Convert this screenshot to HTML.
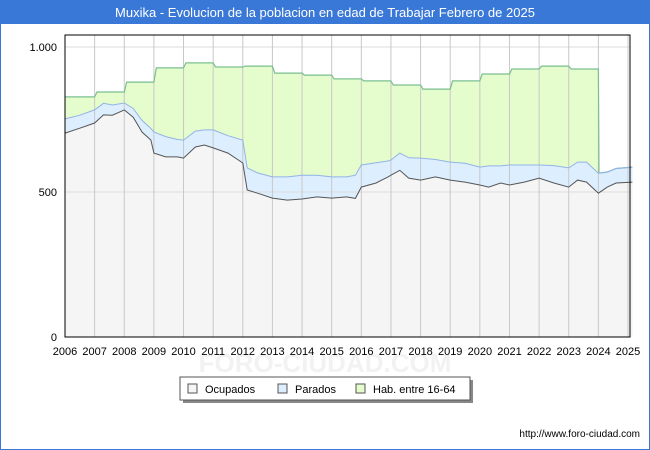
<!DOCTYPE html>
<html><head><meta charset="utf-8"><style>
body{margin:0;background:#fff;font-family:"Liberation Sans",sans-serif}
#wrap{position:relative;width:650px;height:450px;overflow:hidden}
</style></head><body>
<div id="wrap">
<svg id="chart" width="650" height="450" xmlns="http://www.w3.org/2000/svg">
<rect x="0" y="0" width="650" height="450" fill="#fff" stroke="#3a78d8" stroke-width="2"/>
<rect x="0" y="0" width="650" height="24" fill="#3a78d8"/>
<text x="325" y="17" text-anchor="middle" fill="#fff" font-size="13">Muxika - Evolucion de la poblacion en edad de Trabajar Febrero de 2025</text>
<text x="325" y="372" text-anchor="middle" fill="#f2f2f2" font-size="26" font-weight="bold">FORO-CIUDAD.COM</text>
<g id="plot"></g>
<g>
<rect x="183" y="380" width="290" height="23" fill="#888"/>
<rect x="180" y="377" width="290" height="23" fill="#fff" stroke="#555"/>
<rect x="188" y="384" width="9" height="9" fill="#f5f5f5" stroke="#555"/>
<text x="205" y="393" font-size="11" fill="#000">Ocupados</text>
<rect x="278" y="384" width="9" height="9" fill="#ddeeff" stroke="#555"/>
<text x="295" y="393" font-size="11" fill="#000">Parados</text>
<rect x="356" y="384" width="9" height="9" fill="#e5fccc" stroke="#555"/>
<text x="373" y="393" font-size="11" fill="#000">Hab. entre 16-64</text>
</g>
<text x="640" y="437" text-anchor="end" font-size="10" fill="#000">http://www.foro-ciudad.com</text>
</svg>
</div>
<script>
const dates=[2006,2006.5,2007,2007.3,2007.6,2008,2008.3,2008.6,2008.9,2009,2009.4,2009.8,2010,2010.4,2010.7,2011,2011.5,2012,2012.15,2012.5,2013,2013.5,2014,2014.5,2015,2015.5,2015.8,2016,2016.5,2016.9,2017,2017.3,2017.6,2018,2018.5,2019,2019.5,2020,2020.3,2020.7,2021,2021.5,2022,2022.5,2023,2023.3,2023.6,2024,2024.3,2024.6,2025.15];
const ocupados=[703,720,738,766,765,783,758,707,679,634,621,621,617,655,662,652,634,600,507,496,479,472,476,483,479,483,478,517,531,552,558,575,548,541,552,541,534,524,517,531,524,534,548,531,517,541,534,496,517,531,534];
const parados=[49,45,45,40,35,24,30,40,40,73,70,60,62,55,52,62,60,79,76,70,73,80,82,75,73,69,80,76,70,55,52,59,70,76,60,62,65,62,73,59,69,59,45,60,66,62,69,69,52,50,52];
const years=[2006,2007,2008,2009,2010,2011,2012,2013,2014,2015,2016,2017,2018,2019,2020,2021,2022,2023];
const hab=[828,845,879,928,945,931,934,910,903,890,883,869,855,883,907,924,934,924];
const yTicks=[0,500,1000];
const yTickLabels=["0","500","1.000"];
const xTicks=[2006,2007,2008,2009,2010,2011,2012,2013,2014,2015,2016,2017,2018,2019,2020,2021,2022,2023,2024,2025];

const X0=65,X1=628,Y0=337,Y1=47;
const xs=v=>X0+(v-2006)/(2025-2006)*(X1-X0);
const ys=v=>Y0-(v/1000)*(Y0-Y1);
const NS="http://www.w3.org/2000/svg";
const plot=document.getElementById('plot');
function mk(tag,attrs){const e=document.createElementNS(NS,tag);for(const k in attrs)e.setAttribute(k,attrs[k]);plot.appendChild(e);return e;}

const bg=mk('rect',{x:X0,y:35,width:565,height:302,fill:'#fff'});



const parTop=dates.map((d,i)=>ocupados[i]+parados[i]);
function parTopAt(t){for(let i=1;i<dates.length;i++){if(t<=dates[i]){const f=(t-dates[i-1])/(dates[i]-dates[i-1]);return parTop[i-1]+f*(parTop[i]-parTop[i-1]);}}return parTop[parTop.length-1];}
let hp=[];
years.forEach((y,i)=>{const t0=i===0?y:y+0.08;hp.push([t0,hab[i]]);const tend=i<years.length-1?years[i+1]:2024;hp.push([tend,hab[i]]);});
hp.push([2024.02,parTopAt(2024.02)]);
const dEnd=dates[dates.length-1];
let habPath=hp.map((p,i)=>(i?'L':'M')+xs(p[0]).toFixed(1)+','+ys(p[1]).toFixed(1)).join('');
dates.filter(d=>d>2024.02).forEach(d=>{habPath+='L'+xs(d).toFixed(1)+','+ys(parTopAt(d)).toFixed(1);});
const habArea=mk('path',{d:habPath+'L'+xs(dEnd)+','+Y0+'L'+X0+','+Y0+'Z',fill:'#e5fccc'});



const lineP=arr=>dates.map((d,i)=>(i?'L':'M')+xs(d).toFixed(1)+','+ys(arr[i]).toFixed(1)).join('');
const parArea=mk('path',{d:lineP(parTop)+'L'+xs(dEnd)+','+Y0+'L'+X0+','+Y0+'Z',fill:'#ddeeff'});


const ocuArea=mk('path',{d:lineP(ocupados)+'L'+xs(dEnd)+','+Y0+'L'+X0+','+Y0+'Z',fill:'#f5f5f5'});



yTicks.forEach((v,i)=>{
  const g=mk('line',{x1:X0,x2:630,y1:ys(v),y2:ys(v),stroke:'#ddd'});
  
  
  const t=mk('text',{x:57,y:ys(v)+4,'text-anchor':'end','font-size':'11',fill:'#000'});
  t.textContent=yTickLabels[i];
  
  
});
xTicks.forEach(v=>{
  const g=mk('line',{x1:xs(v),x2:xs(v),y1:35,y2:Y0,stroke:'#c8c8c8'});
  
  
  const t=mk('text',{x:xs(v),y:355,'text-anchor':'middle','font-size':'11',fill:'#000'});
  t.textContent=v;
  
  
});

const habLine=mk('path',{d:habPath,fill:'none',stroke:'#7bbf8f','stroke-width':1.2});


const parLine=mk('path',{d:lineP(parTop),fill:'none',stroke:'#92b3e6','stroke-width':1});


const ocuLine=mk('path',{d:lineP(ocupados),fill:'none',stroke:'#555','stroke-width':1});



const border=mk('rect',{x:X0,y:35,width:565,height:302,fill:'none',stroke:'#000','stroke-width':1});


</script>
</body></html>
